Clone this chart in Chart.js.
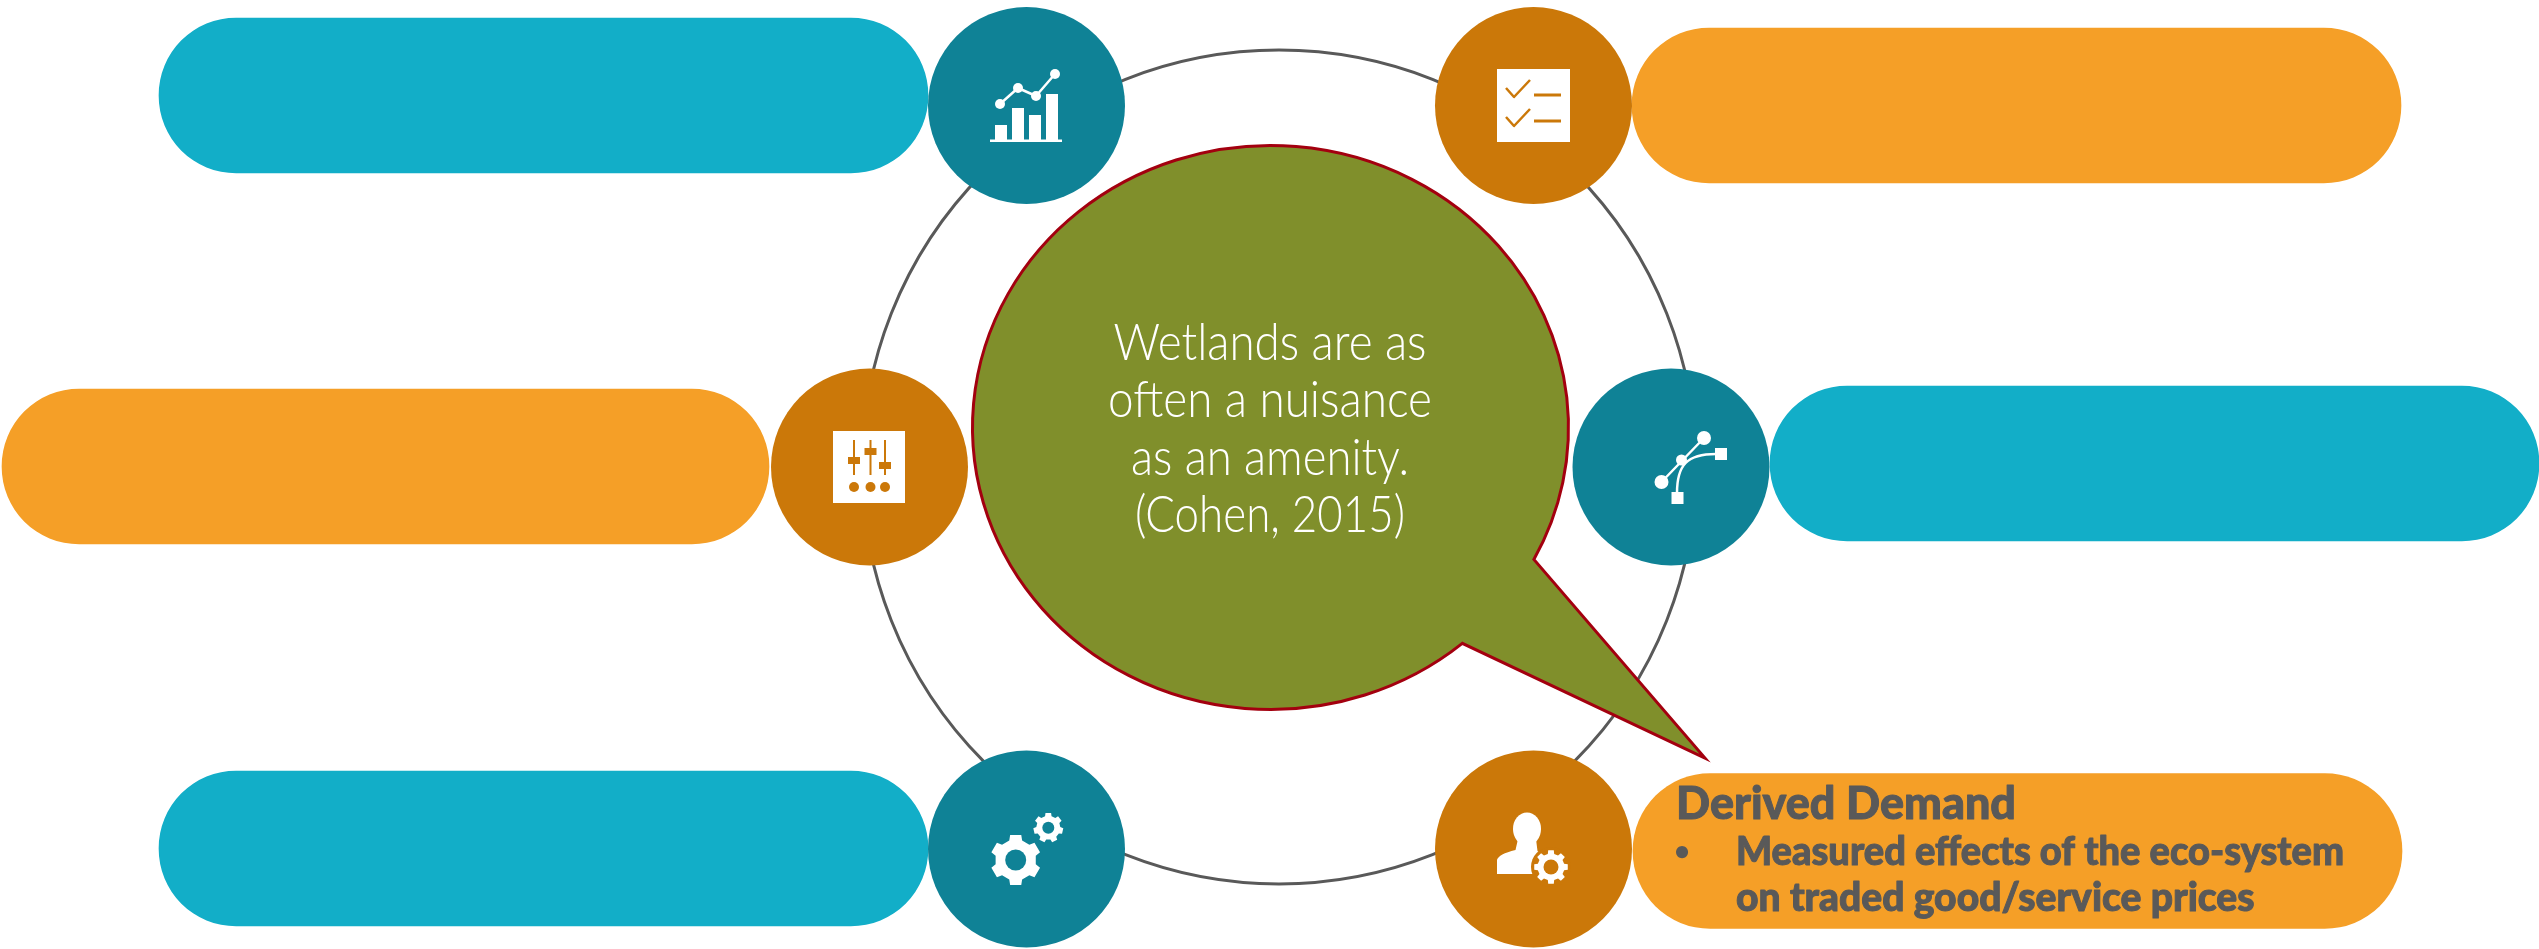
<!DOCTYPE html>
<html>
<head>
<meta charset="utf-8">
<title>Wetlands</title>
<script src="https://cdn.jsdelivr.net/npm/chart.js@4/dist/chart.umd.min.js"></script>
<style>
  html, body { margin: 0; padding: 0; background: #ffffff; }
  canvas { display: block; }
</style>
</head>
<body>
<canvas id="diagram" width="2539" height="949"></canvas>
<script>
// Diagram units run 0-2539 across and 0-949 down.
const pillStart = [159, 1632, 2, 1770, 159, 1633];
const pillEnd = [928, 2401, 769, 2539, 928, 2402];
const pillMid = [95.5, 105.5, 466.5, 463.5, 848.5, 851];
const nodeX = [1026.5, 1533.5, 869.5, 1671, 1026.5, 1533.5];
const nodeY = [105.5, 105.5, 467, 467, 849, 849];
const ringCentre = [1279, 467];
const calloutCentre = [1270.5, 427.5];
const calloutRadii = [298, 282];
const calloutTail = [[1535, 560], [1705, 758], [1462, 643]];
const calloutLines = ['Wetlands are as', 'often a nuisance', 'as an amenity.', '(Cohen, 2015)'];
const calloutBaselines = [360, 417, 475, 532];
const calloutWidths = [313, 324, 278, 270];
const noteHeading = 'Derived Demand';
const noteBullets = ['Measured effects of the eco-system', 'on traded good/service prices'];

const CYAN = '#12AEC8', TEAL = '#0F8296', AMBER = '#F59F27', OCHRE = '#CB7809';
const pillColours = [CYAN, AMBER, AMBER, CYAN, CYAN, AMBER];
const nodeColours = [TEAL, OCHRE, OCHRE, TEAL, TEAL, OCHRE];

function gear(ctx, cx, cy, outer, inner, hole, teeth, gap) {
  ctx.beginPath();
  const step = Math.PI * 2 / teeth;
  for (let i = 0; i < teeth; i++) {
    const a = -Math.PI / 2 + i * step;
    const w = step * 0.21;
    const pts = [[a - w * 1.45, inner], [a - w, outer], [a + w, outer], [a + w * 1.45, inner]];
    pts.forEach(([ang, r], k) => {
      const x = cx + Math.cos(ang) * r, y = cy + Math.sin(ang) * r;
      if (i === 0 && k === 0) ctx.moveTo(x, y); else ctx.lineTo(x, y);
    });
  }
  ctx.closePath();
  ctx.fillStyle = '#ffffff';
  ctx.fill();
  ctx.beginPath();
  ctx.arc(cx, cy, hole, 0, Math.PI * 2);
  ctx.fillStyle = gap;
  ctx.fill();
}

function dot(ctx, x, y, r) {
  ctx.beginPath();
  ctx.arc(x, y, r, 0, Math.PI * 2);
  ctx.fill();
}

// Sets a line to a given width: tracks it out when short, squeezes it when long.
function fitText(ctx, text, x, y, width) {
  ctx.letterSpacing = '0px';
  const natural = ctx.measureText(text).width;
  if (natural < width) {
    ctx.letterSpacing = ((width - natural) / (text.length - 1)) + 'px';
    ctx.fillText(text, x, y);
    ctx.letterSpacing = '0px';
  } else {
    ctx.fillText(text, x, y, width);
  }
}

// Heavier setting of a line for the note text.
function boldText(ctx, text, x, y, width) {
  ctx.fillText(text, x, y, width);
  ctx.strokeText(text, x, y, width);
}

// Each glyph is drawn around the pixel centre of its node.
const glyphs = [
  function trend(ctx, c) {
    ctx.fillStyle = '#fff';
    ctx.fillRect(c.x - 36.5, c.y + 34, 72, 2.5);
    [[-31.5, 19.5], [-14.5, 2.5], [2.5, 9.5], [19.5, -11.5]].forEach(([dx, top]) => {
      ctx.fillRect(c.x + dx, c.y + top, 12, 34.5 - top);
    });
    const marks = [[-26.5, -1.5], [-8.5, -17.5], [9.5, -9.5], [28.5, -31.5]];
    ctx.strokeStyle = '#fff';
    ctx.lineWidth = 2.5;
    ctx.beginPath();
    marks.forEach(([dx, dy], i) => i ? ctx.lineTo(c.x + dx, c.y + dy) : ctx.moveTo(c.x + dx, c.y + dy));
    ctx.stroke();
    marks.forEach(([dx, dy]) => dot(ctx, c.x + dx, c.y + dy, 5));
  },
  function checklist(ctx, c) {
    ctx.fillStyle = '#fff';
    ctx.fillRect(c.x - 36.5, c.y - 36.5, 73, 73);
    ctx.strokeStyle = OCHRE;
    ctx.lineWidth = 2.5;
    [-17.5, 11.5].forEach(cy => {
      ctx.beginPath();
      ctx.moveTo(c.x - 27.5, c.y + cy);
      ctx.lineTo(c.x - 19.5, c.y + cy + 9);
      ctx.lineTo(c.x - 3.5, c.y + cy - 8);
      ctx.stroke();
    });
    ctx.lineWidth = 3;
    [-10.5, 15.5].forEach(dy => {
      ctx.beginPath();
      ctx.moveTo(c.x + 0.5, c.y + dy);
      ctx.lineTo(c.x + 27.5, c.y + dy);
      ctx.stroke();
    });
  },
  function sliders(ctx, c) {
    ctx.fillStyle = '#fff';
    ctx.fillRect(c.x - 36.5, c.y - 36, 72, 72);
    ctx.fillStyle = OCHRE;
    [[-15.5, -10, 7], [1, -19, 7], [15.5, -5, 7]].forEach(([dx, top, h]) => {
      ctx.fillRect(c.x + dx - 1, c.y - 27, 2, 35);
      ctx.fillRect(c.x + dx - 6, c.y + top, 12, h);
      dot(ctx, c.x + dx, c.y + 20, 5);
    });
  },
  function curve(ctx, c) {
    ctx.strokeStyle = '#fff';
    ctx.lineWidth = 2.5;
    ctx.beginPath();
    ctx.moveTo(c.x - 9.5, c.y + 15);
    ctx.lineTo(c.x + 33, c.y - 29);
    ctx.moveTo(c.x + 6, c.y + 26);
    ctx.bezierCurveTo(c.x + 6, c.y - 2, c.x + 16, c.y - 13, c.x + 45, c.y - 13);
    ctx.stroke();
    ctx.fillStyle = '#fff';
    dot(ctx, c.x + 33, c.y - 29, 7);
    dot(ctx, c.x + 10.5, c.y - 7, 5.5);
    dot(ctx, c.x - 9.5, c.y + 15, 7);
    ctx.fillRect(c.x + 44, c.y - 19, 12, 12);
    ctx.fillRect(c.x + 0.5, c.y + 25, 12, 12);
  },
  function gears(ctx, c) {
    gear(ctx, c.x - 10.8, c.y + 11, 25.5, 20.5, 10.5, 6, TEAL);
    gear(ctx, c.x + 21.8, c.y - 21.3, 15, 12, 6, 7, TEAL);
  },
  function operator(ctx, c) {
    ctx.fillStyle = '#fff';
    ctx.beginPath();
    ctx.ellipse(c.x - 6.5, c.y - 20, 14, 16.5, 0, 0, Math.PI * 2);
    ctx.fill();
    ctx.beginPath();
    ctx.moveTo(c.x - 36.5, c.y + 25);
    ctx.lineTo(c.x - 36.5, c.y + 11);
    ctx.quadraticCurveTo(c.x - 35, c.y + 5, c.x - 18, c.y + 1);
    ctx.lineTo(c.x - 15.5, c.y - 10);
    ctx.lineTo(c.x + 2.5, c.y - 10);
    ctx.lineTo(c.x + 4, c.y + 2);
    ctx.quadraticCurveTo(c.x + 10, c.y + 6, c.x + 12, c.y + 25);
    ctx.closePath();
    ctx.fill();
    ctx.fillStyle = OCHRE;
    dot(ctx, c.x + 17.5, c.y + 18, 20);
    gear(ctx, c.x + 17.5, c.y + 18, 17, 13.5, 7.5, 8, OCHRE);
  }
];

const diagramOverlay = {
  id: 'diagramOverlay',
  afterDatasetsDraw(chart) {
    const { ctx, scales: { x, y } } = chart;
    const px = v => x.getPixelForValue(v), py = v => y.getPixelForValue(v);

    // Speech bubble: an ellipse opened where the tail leaves it.
    const cx = px(calloutCentre[0]), cy = py(calloutCentre[1]);
    const rx = calloutRadii[0], ry = calloutRadii[1];
    const angle = p => Math.atan2((py(p[1]) - cy) / ry, (px(p[0]) - cx) / rx);
    const a0 = angle(calloutTail[2]), a1 = angle(calloutTail[0]);
    ctx.save();
    ctx.beginPath();
    ctx.ellipse(cx, cy, rx, ry, 0, a0, a1 + Math.PI * 2);
    ctx.lineTo(px(calloutTail[1][0]), py(calloutTail[1][1]));
    ctx.closePath();
    ctx.fillStyle = '#808F2B';
    ctx.fill();
    ctx.strokeStyle = '#A3000F';
    ctx.lineWidth = 3;
    ctx.lineJoin = 'miter';
    ctx.stroke();

    ctx.fillStyle = '#ffffff';
    ctx.textAlign = 'center';
    ctx.textBaseline = 'alphabetic';
    ctx.font = '300 52px Lato';
    calloutLines.forEach((line, i) => fitText(ctx, line, px(1270), py(calloutBaselines[i]), calloutWidths[i]));

    // Text of the one filled-in note.
    ctx.fillStyle = '#595959';
    ctx.strokeStyle = '#595959';
    ctx.lineWidth = 1;
    ctx.lineJoin = 'round';
    ctx.textAlign = 'left';
    ctx.font = '900 46px Lato';
    boldText(ctx, noteHeading, px(1676), py(819), 340);
    ctx.font = '900 39px Lato';
    boldText(ctx, noteBullets[0], px(1736), py(865), 608);
    boldText(ctx, noteBullets[1], px(1736), py(911), 523);
    ctx.font = '900 26px Lato';
    ctx.textAlign = 'center';
    ctx.fillText('\u2022', px(1682), py(860));
    ctx.textAlign = 'left';

    glyphs.forEach((draw, i) => draw(ctx, { x: px(nodeX[i]), y: py(nodeY[i]) }));
    ctx.restore();
  }
};

new Chart(document.getElementById('diagram'), {
  type: 'bubble',
  data: {
    datasets: [
      {
        // Ring linking the six nodes
        type: 'bubble',
        order: 3,
        data: [{ x: ringCentre[0], y: ringCentre[1], r: 417 }],
        backgroundColor: 'rgba(0,0,0,0)',
        borderColor: '#595959',
        borderWidth: 3
      },
      {
        type: 'bar',
        indexAxis: 'y',
        order: 2,
        grouped: false,
        barThickness: 155,
        borderRadius: 78,
        borderSkipped: false,
        data: pillMid.map((v, i) => ({ y: v, x: [pillStart[i], pillEnd[i]] })),
        backgroundColor: pillColours
      },
      {
        type: 'bubble',
        order: 1,
        data: nodeX.map((v, i) => ({ x: v, y: nodeY[i], r: 98.5 })),
        backgroundColor: nodeColours,
        borderWidth: 0
      }
    ]
  },
  options: {
    responsive: false,
    animation: false,
    events: [],
    layout: { padding: 0, autoPadding: false },
    plugins: { legend: { display: false }, tooltip: { enabled: false }, title: { display: false } },
    scales: {
      x: { type: 'linear', min: 0, max: 2539, offset: false, display: false },
      y: { type: 'linear', min: 0, max: 949, reverse: true, offset: false, display: false }
    }
  },
  plugins: [diagramOverlay]
});
</script>
</body>
</html>
